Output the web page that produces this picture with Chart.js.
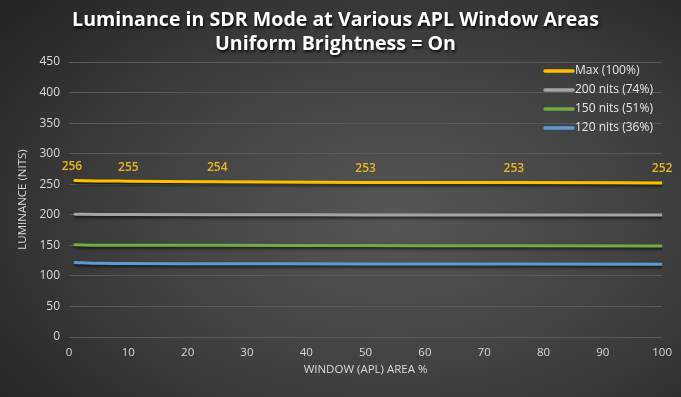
<!DOCTYPE html>
<html>
<head>
<meta charset="utf-8">
<script src="https://cdn.jsdelivr.net/npm/chart.js@4/dist/chart.umd.min.js"></script>
<style>
  html, body { margin: 0; padding: 0; }
  body {
    width: 681px; height: 397px; overflow: hidden;
    background: radial-gradient(ellipse 75% 80% at 58% 55%, #565656 0%, #414141 50%, #242424 100%);
  }
  #wrap { position: relative; width: 681px; height: 397px; }
</style>
</head>
<body>
<div id="wrap"><canvas id="c" width="681" height="397"></canvas></div>
<script>
// ---- Data ----
const titleLines = ['Luminance in SDR Mode at Various APL Window Areas', 'Uniform Brightness = On'];
const xTitle = 'WINDOW (APL) AREA %';
const yTitle = 'LUMINANCE (NITS)';
const windowArea = [1, 5, 10, 25, 50, 75, 100];
const seriesNames = ['Max (100%)', '200 nits (74%)', '150 nits (51%)', '120 nits (36%)'];
const maxValues = [256, 255.3, 255, 254, 253, 252.8, 252];
const nits200Values = [201, 200.5, 200.3, 200, 199.8, 199.6, 199.5];
const nits150Values = [151, 150.3, 150.2, 150, 149.6, 149.3, 149];
const nits120Values = [122, 120.5, 120.2, 120, 119.6, 119.3, 119];
const maxLabels = ['256', null, '255', '254', '253', '253', '252'];
const seriesColors = ['#ffc000', '#a5a5a5', '#70ad47', '#5b9bd5'];

const toPts = (vals) => vals.map((v, i) => ({ x: windowArea[i], y: v }));
const allValues = [maxValues, nits200Values, nits150Values, nits120Values];

const FONT = "'Open Sans', 'DejaVu Sans', sans-serif";

const shadowPlugin = {
  id: 'lineShadow',
  beforeDatasetsDraw(chart) {
    const ctx = chart.ctx;
    ctx.save();
    ctx.shadowColor = 'rgba(0,0,0,0.65)';
    ctx.shadowBlur = 3;
    ctx.shadowOffsetX = 1;
    ctx.shadowOffsetY = 2;
  },
  afterDatasetsDraw(chart) {
    chart.ctx.restore();
  }
};

const titleShadowPlugin = {
  id: 'titleShadow',
  beforeDraw(chart) {
    const tb = chart.titleBlock;
    if (tb && !tb._shadowWrapped) {
      const orig = tb.draw;
      tb.draw = function () {
        const ctx = this.ctx;
        ctx.save();
        ctx.shadowColor = 'rgba(0,0,0,0.85)';
        ctx.shadowBlur = 3;
        ctx.shadowOffsetX = 1;
        ctx.shadowOffsetY = 2;
        orig.apply(this, arguments);
        ctx.restore();
      };
      tb._shadowWrapped = true;
    }
  }
};

const labelPlugin = {
  id: 'maxLabels',
  afterDatasetsDraw(chart) {
    const ctx = chart.ctx;
    const meta = chart.getDatasetMeta(0);
    ctx.save();
    ctx.font = "600 12px " + FONT;
    ctx.fillStyle = '#e9b824';
    ctx.textAlign = 'center';
    ctx.textBaseline = 'middle';
    meta.data.forEach((pt, i) => {
      const t = maxLabels[i];
      if (!t) return;
      ctx.fillText(t, pt.x - (i === 0 ? 3 : 0), pt.y - 14);
    });
    ctx.restore();
  }
};

const legendPlugin = {
  id: 'insideLegend',
  afterDraw(chart) {
    const ctx = chart.ctx;
    const x0 = 545, x1 = 573, y0 = 71, step = 19;
    ctx.save();
    ctx.font = "12px " + FONT;
    ctx.textBaseline = 'middle';
    ctx.textAlign = 'left';
    chart.data.datasets.forEach((ds, i) => {
      const y = y0 + i * step;
      ctx.strokeStyle = ds.borderColor;
      ctx.lineWidth = 3.5;
      ctx.lineCap = 'round';
      ctx.beginPath();
      ctx.moveTo(x0, y);
      ctx.lineTo(x1, y);
      ctx.stroke();
      ctx.fillStyle = '#e6e6e6';
      ctx.fillText(ds.label, x1 + 2, y);
    });
    ctx.restore();
  }
};

new Chart(document.getElementById('c'), {
  type: 'line',
  data: {
    datasets: seriesNames.map((name, i) => ({
      label: name,
      data: toPts(allValues[i]),
      borderColor: seriesColors[i],
      backgroundColor: seriesColors[i],
      borderWidth: 3,
      pointRadius: 0,
      tension: 0.4,
      cubicInterpolationMode: 'monotone',
      borderCapStyle: 'round',
      fill: false
    }))
  },
  options: {
    responsive: false,
    animation: false,
    layout: { padding: { left: 0, right: 10, top: 0, bottom: 0 } },
    plugins: {
      legend: { display: false },
      tooltip: { enabled: false },
      title: {
        display: true,
        text: titleLines,
        color: '#ffffff',
        font: { family: FONT, size: 19.6, weight: 'bold', lineHeight: '24px' },
        padding: { top: 8, bottom: 6 }
      }
    },
    scales: {
      x: {
        type: 'linear',
        min: 0, max: 100,
        ticks: { stepSize: 10, color: '#d9d9d9', font: { family: FONT, size: 11.5 }, padding: 9, maxRotation: 0 },
        grid: { display: false, drawTicks: false },
        border: { display: false },
        title: { display: true, text: xTitle, color: '#d9d9d9', font: { family: FONT, size: 11.5 }, padding: { top: 0, bottom: 20 } },
        afterFit(scale) { scale.height = 60; }
      },
      y: {
        min: 0, max: 450,
        ticks: { stepSize: 50, color: '#d9d9d9', font: { family: FONT, size: 12 }, padding: 9 },
        grid: { color: '#5a5a5a', lineWidth: 1, drawTicks: false },
        border: { display: false },
        title: { display: true, text: yTitle, color: '#d9d9d9', font: { family: FONT, size: 11.5 }, padding: { top: 16, bottom: 0 } },
        afterFit(scale) { scale.width = 69; }
      }
    }
  },
  plugins: [titleShadowPlugin, shadowPlugin, labelPlugin, legendPlugin]
});
</script>
</body>
</html>
